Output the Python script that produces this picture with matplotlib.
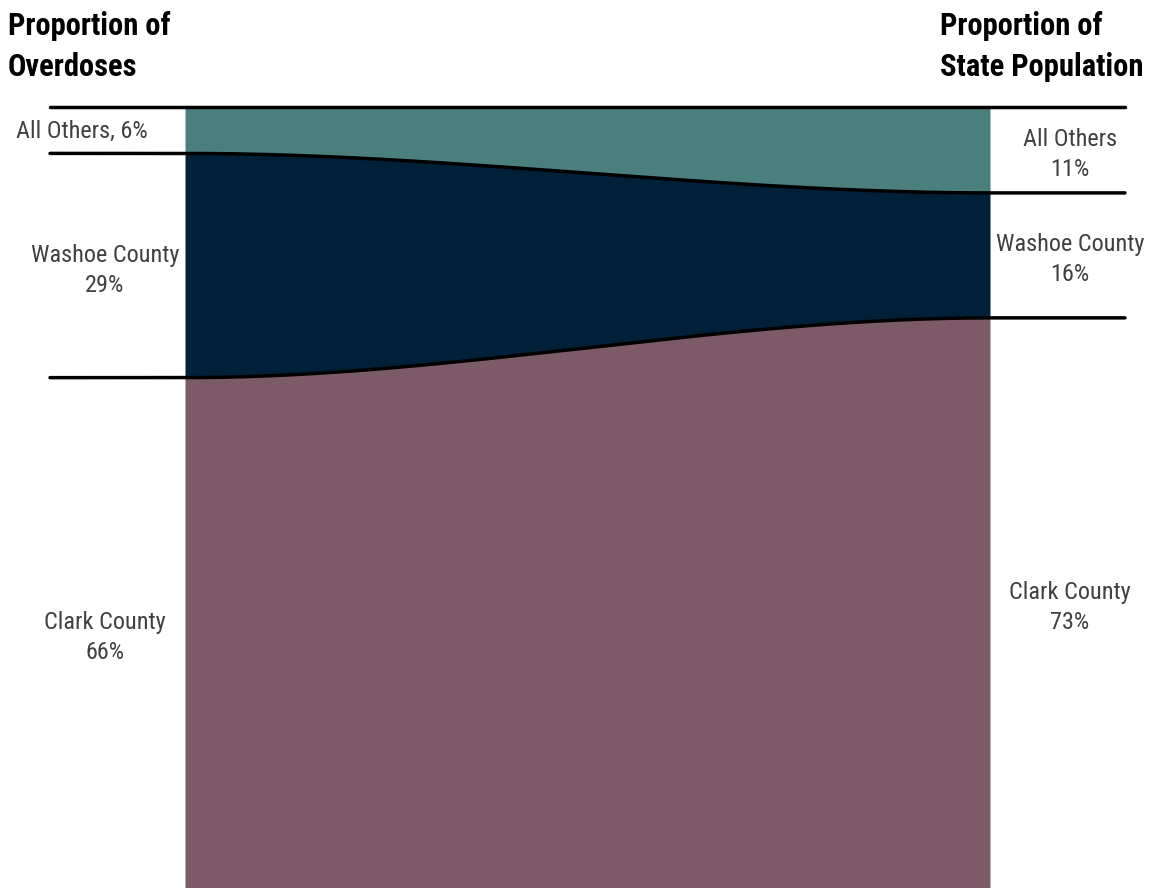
import numpy as np
import matplotlib
matplotlib.use('Agg')
import matplotlib.pyplot as plt

# 数据（自上而下：All Others, Washoe County, Clark County）
groups = ['All Others', 'Washoe County', 'Clark County']
overdose_pct = [6, 29, 66]
population_pct = [11, 16, 73]
left_labels = [['All Others, 6%'], ['Washoe County', '29%'], ['Clark County', '66%']]
right_labels = [['All Others', '11%'], ['Washoe County', '16%'], ['Clark County', '73%']]
colors = ['#4A7F7D', '#001F38', '#7D5A67']
text_color = '#404040'

plt.rcParams['font.family'] = ['Roboto Condensed', 'Roboto', 'DejaVu Sans']

fig = plt.figure(figsize=(11.59, 8.88), dpi=100)
ax = fig.add_axes([0, 0, 1, 1])
ax.set_xlim(-185 / 805, 974 / 805)
ax.set_ylim(100, -107 / 7.81)
ax.axis('off')

# 累计边界（归一化到100）
left_edges = np.concatenate([[0], np.cumsum(overdose_pct) / sum(overdose_pct) * 100])
right_edges = np.concatenate([[0], np.cumsum(population_pct) / sum(population_pct) * 100])

t = np.linspace(0, 1, 300)
s = 3 * t ** 2 - 2 * t ** 3  # 平滑过渡


def curve(a, b):
    return a + (b - a) * s


for i in range(len(groups)):
    top = curve(left_edges[i], right_edges[i])
    bot = curve(left_edges[i + 1], right_edges[i + 1])
    ax.fill_between(t, top, bot, color=colors[i], lw=0)

# 分隔线
ext = 135 / 805
for i in range(len(groups)):
    a, b = left_edges[i], right_edges[i]
    xs = np.concatenate([[-ext], t, [1 + ext]])
    ys = np.concatenate([[a], curve(a, b), [b]])
    ax.plot(xs, ys, color='black', lw=2.5, solid_capstyle='round')


def put_label(x, mid, lines):
    if len(lines) == 1:
        offsets = [-8]
    else:
        offsets = [4, -26]
    for line, off in zip(lines, offsets):
        ax.annotate(line, xy=(x, mid), xytext=(0, off), textcoords='offset pixels',
                    ha='center', va='baseline', fontsize=17.5, color=text_color)


# 标签
for i in range(len(groups)):
    lmid = (left_edges[i] + left_edges[i + 1]) / 2
    rmid = (right_edges[i] + right_edges[i + 1]) / 2
    lx = -80 / 805 if i else -103 / 805
    put_label(lx, lmid, left_labels[i])
    put_label(1 + 80 / 805, rmid, right_labels[i])

# 标题
for x0, lines in [(8, ['Proportion of', 'Overdoses']), (940, ['Proportion of', 'State Population'])]:
    for line, base in zip(lines, [35, 76]):
        fig.text(x0 / 1159, 1 - base / 888, line, ha='left', va='baseline',
                 fontsize=22, fontweight='bold', color='black')

fig.savefig('out.png', dpi=100)
